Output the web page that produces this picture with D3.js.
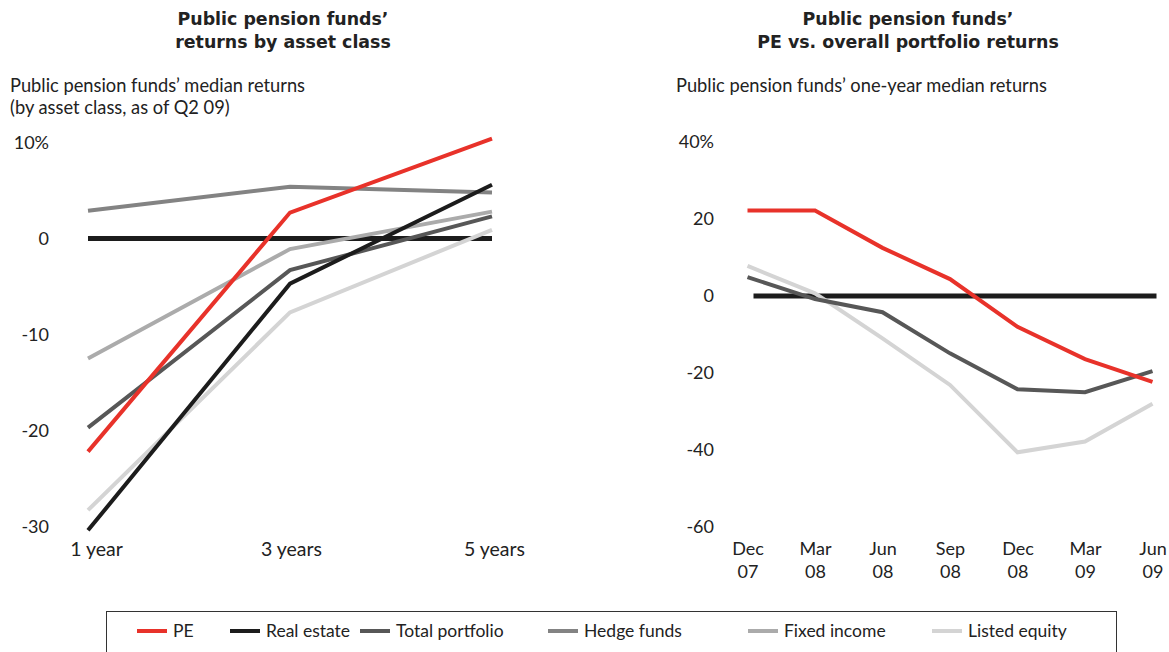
<!DOCTYPE html>
<html>
<head>
<meta charset="utf-8">
<script src="https://cdn.jsdelivr.net/npm/d3@7"></script>
<style>
  body { margin: 0; background: #fff; }
  svg text { font-family: "Lato", "Noto Sans", sans-serif; fill: #222; }
  .axis path { display: none; }
  .axis text { font-size: 18px; }
</style>
</head>
<body>
<div id="chart"></div>
<script>
// left panel: returns by asset class
var horizons = ["1 year", "3 years", "5 years"];
var leftTicks = [-30, -20, -10, 0, 10];
var pe3 = [-22.2, 2.7, 10.4];
var realEstate3 = [-30.4, -4.7, 5.6];
var totalPortfolio3 = [-19.7, -3.3, 2.3];
var hedgeFunds3 = [2.9, 5.4, 4.8];
var fixedIncome3 = [-12.5, -1.1, 2.8];
var listedEquity3 = [-28.3, -7.7, 0.9];

// right panel: one-year returns over time
var quarters = ["Dec 07", "Mar 08", "Jun 08", "Sep 08", "Dec 08", "Mar 09", "Jun 09"];
var rightTicks = [-60, -40, -20, 0, 20, 40];
var peQ = [22.2, 22.2, 12.5, 4.4, -8.0, -16.4, -22.3];
var totalPortfolioQ = [4.9, -0.8, -4.2, -14.9, -24.2, -25.0, -19.5];
var listedEquityQ = [7.8, 0.7, -11.0, -23.1, -40.6, -37.8, -28.0];

var seriesNames = ["PE", "Real estate", "Total portfolio", "Hedge funds", "Fixed income", "Listed equity"];
var colors = ["#e8322a", "#1c1c1c", "#575757", "#838383", "#ababab", "#d4d4d4"];
var color = d3.scaleOrdinal().domain(seriesNames).range(colors);

var svg = d3.select("#chart").append("svg")
  .attr("width", 1169)
  .attr("height", 652);

// titles
function title(x, lines) {
  var t = svg.append("text")
    .attr("x", x)
    .attr("y", 25)
    .style("text-anchor", "middle")
    .style("font-family", "'DejaVu Sans', sans-serif")
    .style("font-weight", "bold")
    .style("font-size", "17.4px");
  lines.forEach(function(l, i) {
    t.append("tspan").attr("x", x).attr("dy", i === 0 ? 0 : "1.33em").text(l);
  });
}
title(283, ["Public pension funds\u2019", "returns by asset class"]);
title(908, ["Public pension funds\u2019", "PE vs. overall portfolio returns"]);

svg.append("text").attr("x", 10).attr("y", 92).style("font-size", "18.3px")
  .text("Public pension funds\u2019 median returns");
svg.append("text").attr("x", 10).attr("y", 114).style("font-size", "18.3px")
  .text("(by asset class, as of Q2 09)");
svg.append("text").attr("x", 676).attr("y", 92).style("font-size", "18.3px")
  .text("Public pension funds\u2019 one-year median returns");

var line = d3.line();

// ---- left panel
var x1 = d3.scalePoint().domain(horizons).range([88, 492]);
var y1 = d3.scaleLinear().domain([-30, 10]).range([526.5, 142.5]);

svg.append("g")
  .attr("class", "axis")
  .attr("transform", "translate(49,0)")
  .call(d3.axisLeft(y1).tickValues(leftTicks).tickSize(0).tickPadding(0)
    .tickFormat(function(d) { return d === 10 ? "10%" : d; }));

var xAxis1 = svg.append("g")
  .attr("class", "axis")
  .attr("transform", "translate(0,538)")
  .call(d3.axisBottom(x1).tickSize(0).tickPadding(4));
xAxis1.selectAll("text").style("font-size", "19.5px").attr("dx", function(d, i) { return [8, 1, 2][i]; });

var leftData = [
  { name: "PE", values: pe3 },
  { name: "Real estate", values: realEstate3 },
  { name: "Total portfolio", values: totalPortfolio3 },
  { name: "Hedge funds", values: hedgeFunds3 },
  { name: "Fixed income", values: fixedIncome3 },
  { name: "Listed equity", values: listedEquity3 }
];

svg.append("line")
  .attr("x1", x1(horizons[0])).attr("x2", x1(horizons[2]))
  .attr("y1", y1(0)).attr("y2", y1(0))
  .attr("stroke", "#1c1c1c").attr("stroke-width", 5);

svg.selectAll(".lline")
  .data(leftData.slice().reverse())
  .enter()
  .append("path")
  .attr("class", "lline")
  .attr("fill", "none")
  .attr("stroke-width", 4)
  .attr("stroke", function(d) { return color(d.name); })
  .attr("d", function(d) {
    return line(d.values.map(function(v, i) { return [x1(horizons[i]), y1(v)]; }));
  });

// ---- right panel
var x2 = d3.scalePoint().domain(quarters).range([747.5, 1152.5]);
var y2 = d3.scaleLinear().domain([-60, 40]).range([527, 142]);

svg.append("g")
  .attr("class", "axis")
  .attr("transform", "translate(714,0)")
  .call(d3.axisLeft(y2).tickValues(rightTicks).tickSize(0).tickPadding(0)
    .tickFormat(function(d) { return d === 40 ? "40%" : d; }));

var xAxis2 = svg.append("g")
  .attr("class", "axis")
  .attr("transform", "translate(0,538)")
  .call(d3.axisBottom(x2).tickSize(0).tickPadding(4));
xAxis2.selectAll("text")
  .text(null)
  .each(function(d) {
    var parts = d.split(" ");
    var t = d3.select(this);
    t.append("tspan").attr("x", 0).text(parts[0]);
    t.append("tspan").attr("x", 0).attr("dy", "1.3em").text(parts[1]);
  });

svg.append("line")
  .attr("x1", x2(quarters[0]) + 6).attr("x2", x2(quarters[6]) + 4)
  .attr("y1", y2(0)).attr("y2", y2(0))
  .attr("stroke", "#1c1c1c").attr("stroke-width", 5);

var rightData = [
  { name: "PE", values: peQ },
  { name: "Total portfolio", values: totalPortfolioQ },
  { name: "Listed equity", values: listedEquityQ }
];

svg.selectAll(".rline")
  .data(rightData.slice().reverse())
  .enter()
  .append("path")
  .attr("class", "rline")
  .attr("fill", "none")
  .attr("stroke-width", 4)
  .attr("stroke", function(d) { return color(d.name); })
  .attr("d", function(d) {
    return line(d.values.map(function(v, i) { return [x2(quarters[i]), y2(v)]; }));
  });

// ---- legend
svg.append("rect")
  .attr("x", 106.5).attr("y", 611.5)
  .attr("width", 1010).attr("height", 45)
  .attr("fill", "none").attr("stroke", "#333").attr("stroke-width", 1);

var legendX = [137, 230, 360, 548, 748, 932];
var leg = svg.selectAll(".leg")
  .data(seriesNames)
  .enter()
  .append("g")
  .attr("class", "leg")
  .attr("transform", function(d, i) { return "translate(" + legendX[i] + ",631)"; });
leg.append("line")
  .attr("x1", 0).attr("x2", 30)
  .attr("stroke", function(d) { return color(d); })
  .attr("stroke-width", 4);
leg.append("text")
  .attr("x", 36).attr("dy", "0.35em")
  .style("font-size", "17.5px")
  .text(function(d) { return d; });
</script>
</body>
</html>
